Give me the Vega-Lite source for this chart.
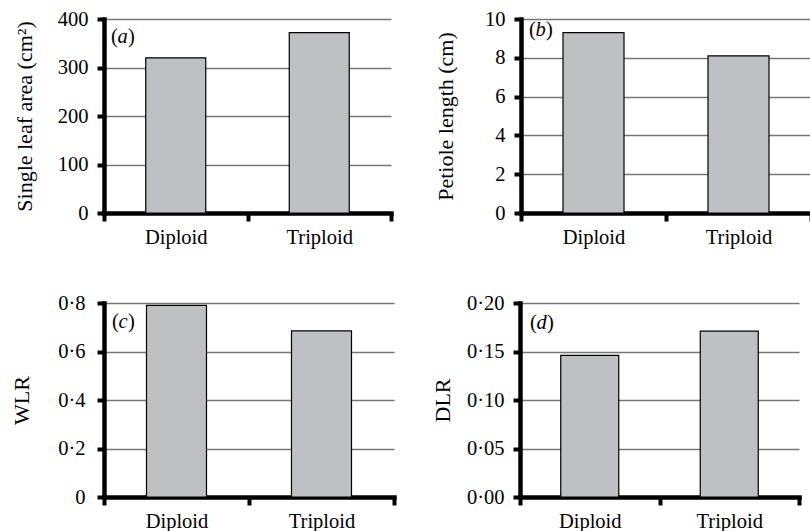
{
  "$schema": "https://vega.github.io/schema/vega-lite/v6.json",
  "padding": {"left": 10, "top": 9, "right": 0, "bottom": 0},
  "background": "white",
  "config": {
    "font": "Liberation Serif",
    "view": {"stroke": null},
    "axis": {
      "labelFont": "Liberation Serif", "titleFont": "Liberation Serif",
      "labelFontSize": 20.5, "titleFontSize": 22, "titleFontWeight": "normal",
      "labelColor": "black", "titleColor": "black",
      "domainColor": "black", "domainWidth": 4.5, "tickColor": "black", "tickWidth": 4
    },
    "axisX": {"title": null, "labelAngle": 0, "tickSize": 8, "labelPadding": 6, "grid": false, "tickBand": "extent", "domainCap": "square"},
    "axisY": {"tickSize": 7, "labelPadding": 9, "grid": true, "gridColor": "#777777", "gridWidth": 1.3, "titlePadding": 20, "domainCap": "square", "labelOverlap": false},
    "text": {"font": "Liberation Serif", "fontSize": 20.5, "color": "black", "align": "left", "baseline": "alphabetic"}
  },
  "vconcat": [
    {
      "spacing": 41,
      "hconcat": [
        {
          "width": 287, "height": 194,
          "layer": [
            {
              "data": {"values": [{"ploidy": "Diploid", "value": 320}, {"ploidy": "Triploid", "value": 372}]},
              "mark": {"type": "bar", "size": 60, "fill": "#bfc0c4", "stroke": "black", "strokeWidth": 1.2},
              "encoding": {
                "x": {"field": "ploidy", "type": "nominal", "scale": {"paddingInner": 0, "paddingOuter": 0}},
                "y": {"field": "value", "type": "quantitative", "scale": {"domain": [0, 400]},
                      "axis": {"title": "Single leaf area (cm²)", "values": [0, 100, 200, 300, 400], "minExtent": 45, "maxExtent": 45, "titlePadding": 23}}
              }
            },
            {
              "data": {"values": [{"letter": "a"}]},
              "mark": {"type": "text", "text": "(", "dx": 7, "dy": 24},
              "encoding": {"x": {"datum": "Diploid", "type": "nominal", "bandPosition": 0}, "y": {"datum": 400, "type": "quantitative", "axis": {"title": "Single leaf area (cm²)", "values": [0, 100, 200, 300, 400], "minExtent": 45, "maxExtent": 45, "titlePadding": 23}}}
            },
            {
              "data": {"values": [{"letter": "a"}]},
              "mark": {"type": "text", "dx": 13.5, "dy": 24, "fontStyle": "italic"},
              "encoding": {"x": {"datum": "Diploid", "type": "nominal", "bandPosition": 0}, "y": {"datum": 400, "type": "quantitative", "axis": {"title": "Single leaf area (cm²)", "values": [0, 100, 200, 300, 400], "minExtent": 45, "maxExtent": 45, "titlePadding": 23}}, "text": {"field": "letter"}}
            },
            {
              "data": {"values": [{"letter": "a"}]},
              "mark": {"type": "text", "text": ")", "dx": 24, "dy": 24},
              "encoding": {"x": {"datum": "Diploid", "type": "nominal", "bandPosition": 0}, "y": {"datum": 400, "type": "quantitative", "axis": {"title": "Single leaf area (cm²)", "values": [0, 100, 200, 300, 400], "minExtent": 45, "maxExtent": 45, "titlePadding": 23}}}
            }
          ]
        },
        {
          "width": 290, "height": 194,
          "layer": [
            {
              "data": {"values": [{"ploidy": "Diploid", "value": 9.3}, {"ploidy": "Triploid", "value": 8.1}]},
              "mark": {"type": "bar", "size": 61, "fill": "#bfc0c4", "stroke": "black", "strokeWidth": 1.2},
              "encoding": {
                "x": {"field": "ploidy", "type": "nominal", "scale": {"paddingInner": 0, "paddingOuter": 0}},
                "y": {"field": "value", "type": "quantitative", "scale": {"domain": [0, 10]},
                      "axis": {"title": "Petiole length (cm)", "values": [0, 2, 4, 6, 8, 10], "minExtent": 44, "maxExtent": 44}}
              }
            },
            {
              "data": {"values": [{"letter": "b"}]},
              "mark": {"type": "text", "text": "(", "dx": 8, "dy": 17},
              "encoding": {"x": {"datum": "Diploid", "type": "nominal", "bandPosition": 0}, "y": {"datum": 10, "type": "quantitative", "axis": {"title": "Petiole length (cm)", "values": [0, 2, 4, 6, 8, 10], "minExtent": 44, "maxExtent": 44}}}
            },
            {
              "data": {"values": [{"letter": "b"}]},
              "mark": {"type": "text", "dx": 14.5, "dy": 17, "fontStyle": "italic"},
              "encoding": {"x": {"datum": "Diploid", "type": "nominal", "bandPosition": 0}, "y": {"datum": 10, "type": "quantitative", "axis": {"title": "Petiole length (cm)", "values": [0, 2, 4, 6, 8, 10], "minExtent": 44, "maxExtent": 44}}, "text": {"field": "letter"}}
            },
            {
              "data": {"values": [{"letter": "b"}]},
              "mark": {"type": "text", "text": ")", "dx": 25, "dy": 17},
              "encoding": {"x": {"datum": "Diploid", "type": "nominal", "bandPosition": 0}, "y": {"datum": 10, "type": "quantitative", "axis": {"title": "Petiole length (cm)", "values": [0, 2, 4, 6, 8, 10], "minExtent": 44, "maxExtent": 44}}}
            }
          ]
        }
      ]
    },
    {
      "spacing": 35,
      "hconcat": [
        {
          "width": 290, "height": 194,
          "layer": [
            {
              "data": {"values": [{"ploidy": "Diploid", "value": 0.79}, {"ploidy": "Triploid", "value": 0.685}]},
              "mark": {"type": "bar", "size": 60, "fill": "#bfc0c4", "stroke": "black", "strokeWidth": 1.2},
              "encoding": {
                "x": {"field": "ploidy", "type": "nominal", "scale": {"paddingInner": 0, "paddingOuter": 0}},
                "y": {"field": "value", "type": "quantitative", "scale": {"domain": [0, 0.8]},
                      "axis": {"title": "WLR", "values": [0, 0.2, 0.4, 0.6, 0.8], "minExtent": 55, "maxExtent": 55, "labelPadding": 12, "titlePadding": 16,
                               "labelExpr": "datum.value == 0 ? '0' : replace(format(datum.value, '.1f'), '.', '·')"}}
              }
            },
            {
              "data": {"values": [{"letter": "c"}]},
              "mark": {"type": "text", "text": "(", "dx": 8, "dy": 25},
              "encoding": {"x": {"datum": "Diploid", "type": "nominal", "bandPosition": 0}, "y": {"datum": 0.8, "type": "quantitative", "axis": {"title": "WLR", "values": [0, 0.2, 0.4, 0.6, 0.8], "minExtent": 55, "maxExtent": 55, "labelPadding": 12, "titlePadding": 16, "labelExpr": "datum.value == 0 ? '0' : replace(format(datum.value, '.1f'), '.', '·')"}}}
            },
            {
              "data": {"values": [{"letter": "c"}]},
              "mark": {"type": "text", "dx": 14.5, "dy": 25, "fontStyle": "italic"},
              "encoding": {"x": {"datum": "Diploid", "type": "nominal", "bandPosition": 0}, "y": {"datum": 0.8, "type": "quantitative", "axis": {"title": "WLR", "values": [0, 0.2, 0.4, 0.6, 0.8], "minExtent": 55, "maxExtent": 55, "labelPadding": 12, "titlePadding": 16, "labelExpr": "datum.value == 0 ? '0' : replace(format(datum.value, '.1f'), '.', '·')"}}, "text": {"field": "letter"}}
            },
            {
              "data": {"values": [{"letter": "c"}]},
              "mark": {"type": "text", "text": ")", "dx": 24, "dy": 25},
              "encoding": {"x": {"datum": "Diploid", "type": "nominal", "bandPosition": 0}, "y": {"datum": 0.8, "type": "quantitative", "axis": {"title": "WLR", "values": [0, 0.2, 0.4, 0.6, 0.8], "minExtent": 55, "maxExtent": 55, "labelPadding": 12, "titlePadding": 16, "labelExpr": "datum.value == 0 ? '0' : replace(format(datum.value, '.1f'), '.', '·')"}}}
            }
          ]
        },
        {
          "width": 279, "height": 194,
          "layer": [
            {
              "data": {"values": [{"ploidy": "Diploid", "value": 0.146}, {"ploidy": "Triploid", "value": 0.171}]},
              "mark": {"type": "bar", "size": 58, "fill": "#bfc0c4", "stroke": "black", "strokeWidth": 1.2},
              "encoding": {
                "x": {"field": "ploidy", "type": "nominal", "scale": {"paddingInner": 0, "paddingOuter": 0}},
                "y": {"field": "value", "type": "quantitative", "scale": {"domain": [0, 0.2]},
                      "axis": {"title": "DLR", "values": [0, 0.05, 0.1, 0.15, 0.2], "minExtent": 46, "maxExtent": 46,
                               "labelExpr": "replace(format(datum.value, '.2f'), '.', '·')"}}
              }
            },
            {
              "data": {"values": [{"letter": "d"}]},
              "mark": {"type": "text", "text": "(", "dx": 10, "dy": 26},
              "encoding": {"x": {"datum": "Diploid", "type": "nominal", "bandPosition": 0}, "y": {"datum": 0.2, "type": "quantitative", "axis": {"title": "DLR", "values": [0, 0.05, 0.1, 0.15, 0.2], "minExtent": 46, "maxExtent": 46, "labelExpr": "replace(format(datum.value, '.2f'), '.', '·')"}}}
            },
            {
              "data": {"values": [{"letter": "d"}]},
              "mark": {"type": "text", "dx": 16.5, "dy": 26, "fontStyle": "italic"},
              "encoding": {"x": {"datum": "Diploid", "type": "nominal", "bandPosition": 0}, "y": {"datum": 0.2, "type": "quantitative", "axis": {"title": "DLR", "values": [0, 0.05, 0.1, 0.15, 0.2], "minExtent": 46, "maxExtent": 46, "labelExpr": "replace(format(datum.value, '.2f'), '.', '·')"}}, "text": {"field": "letter"}}
            },
            {
              "data": {"values": [{"letter": "d"}]},
              "mark": {"type": "text", "text": ")", "dx": 27, "dy": 26},
              "encoding": {"x": {"datum": "Diploid", "type": "nominal", "bandPosition": 0}, "y": {"datum": 0.2, "type": "quantitative", "axis": {"title": "DLR", "values": [0, 0.05, 0.1, 0.15, 0.2], "minExtent": 46, "maxExtent": 46, "labelExpr": "replace(format(datum.value, '.2f'), '.', '·')"}}}
            }
          ]
        }
      ]
    }
  ],
  "spacing": 45
}
